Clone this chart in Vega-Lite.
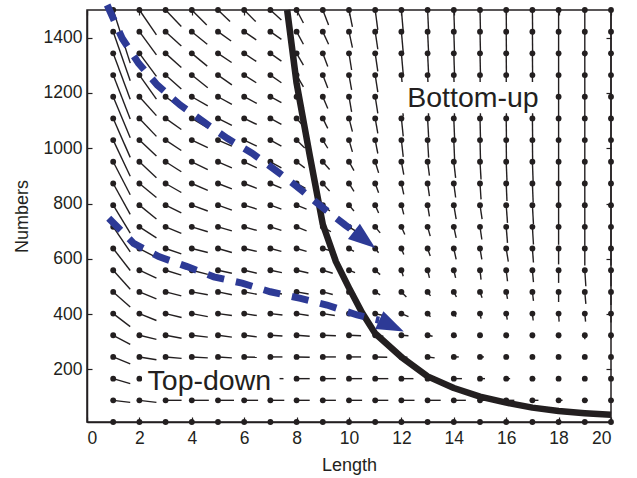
{
  "$schema": "https://vega.github.io/schema/vega-lite/v6.json",
  "width": 524,
  "height": 412,
  "autosize": {"type": "none"},
  "padding": {"left": 87, "top": 10, "right": 26, "bottom": 56},
  "background": "white",
  "config": {
    "view": {"stroke": "#231f20", "strokeWidth": 1.5},
    "font": "Liberation Sans",
    "axis": {"grid": false, "domainColor": "#231f20", "domainWidth": 1.5, "tickColor": "#231f20", "tickWidth": 1.2, "tickSize": -5, "labelFont": "Liberation Sans", "labelFontSize": 17.5, "labelColor": "#231f20", "titleFont": "Liberation Sans", "titleFontSize": 18, "titleFontWeight": "normal", "titleColor": "#231f20"},
    "axisX": {"labelPadding": 12, "titlePadding": 10},
    "axisY": {"labelPadding": 10, "titlePadding": 12}
  },
  "resolve": {"axis": {"x": "independent", "y": "independent"}},
  "encoding": {
    "x": {"field": "L", "type": "quantitative", "scale": {"domain": [0, 20], "nice": false, "zero": false}, "axis": null},
    "y": {"field": "N", "type": "quantitative", "scale": {"domain": [10, 1500], "nice": false, "zero": false}, "axis": null}
  },
  "datasets": {
    "field": [
      {"L":1,"N":1500,"L2":1.65,"N2":1308},{"L":1,"N":1421.6,"L2":1.65,"N2":1244},{"L":1,"N":1343.2,"L2":1.65,"N2":1177},{"L":1,"N":1264.7,"L2":1.65,"N2":1106},{"L":1,"N":1186.3,"L2":1.65,"N2":1038},{"L":1,"N":1107.9,"L2":1.65,"N2":967},{"L":1,"N":1029.5,"L2":1.65,"N2":899},{"L":1,"N":951.1,"L2":1.65,"N2":832},{"L":1,"N":872.6,"L2":1.65,"N2":761},{"L":1,"N":794.2,"L2":1.65,"N2":693},{"L":1,"N":715.8,"L2":1.65,"N2":625},{"L":1,"N":637.4,"L2":1.65,"N2":558},{"L":1,"N":558.9,"L2":1.65,"N2":490},{"L":1,"N":480.5,"L2":1.65,"N2":426},{"L":1,"N":402.1,"L2":1.65,"N2":355},{"L":1,"N":323.7,"L2":1.65,"N2":291},{"L":1,"N":245.3,"L2":1.65,"N2":220},{"L":1,"N":166.8,"L2":1.65,"N2":149},{"L":1,"N":88.4,"L2":1.65,"N2":81},{"L":1,"N":10,"L2":1,"N2":10},
      {"L":2,"N":1500,"L2":2.65,"N2":1410},{"L":2,"N":1421.6,"L2":2.65,"N2":1338},{"L":2,"N":1343.2,"L2":2.65,"N2":1260},{"L":2,"N":1264.7,"L2":2.65,"N2":1178},{"L":2,"N":1186.3,"L2":2.65,"N2":1118},{"L":2,"N":1107.9,"L2":2.65,"N2":1043},{"L":2,"N":1029.5,"L2":2.65,"N2":972},{"L":2,"N":951.1,"L2":2.65,"N2":893},{"L":2,"N":872.6,"L2":2.65,"N2":822},{"L":2,"N":794.2,"L2":2.65,"N2":744},{"L":2,"N":715.8,"L2":2.65,"N2":676},{"L":2,"N":637.4,"L2":2.65,"N2":605},{"L":2,"N":558.9,"L2":2.65,"N2":530},{"L":2,"N":480.5,"L2":2.65,"N2":455},{"L":2,"N":402.1,"L2":2.65,"N2":377},{"L":2,"N":323.7,"L2":2.65,"N2":309},{"L":2,"N":245.3,"L2":2.65,"N2":235},{"L":2,"N":166.8,"L2":2.65,"N2":158},{"L":2,"N":88.4,"L2":2.65,"N2":81},{"L":2,"N":10,"L2":2,"N2":10},
      {"L":3,"N":1500,"L2":3.6,"N2":1440},{"L":3,"N":1421.6,"L2":3.6,"N2":1370},{"L":3,"N":1343.2,"L2":3.6,"N2":1292},{"L":3,"N":1264.7,"L2":3.6,"N2":1214},{"L":3,"N":1186.3,"L2":3.6,"N2":1145},{"L":3,"N":1107.9,"L2":3.6,"N2":1068},{"L":3,"N":1029.5,"L2":3.6,"N2":992},{"L":3,"N":951.1,"L2":3.6,"N2":915},{"L":3,"N":872.6,"L2":3.6,"N2":840},{"L":3,"N":794.2,"L2":3.6,"N2":766},{"L":3,"N":715.8,"L2":3.6,"N2":692},{"L":3,"N":637.4,"L2":3.6,"N2":618},{"L":3,"N":558.9,"L2":3.6,"N2":541},{"L":3,"N":480.5,"L2":3.6,"N2":466},{"L":3,"N":402.1,"L2":3.61,"N2":388},{"L":3,"N":323.7,"L2":3.61,"N2":313},{"L":3,"N":245.3,"L2":3.61,"N2":240},{"L":3,"N":166.8,"L2":3.61,"N2":163},{"L":3,"N":88.4,"L2":3.61,"N2":88.4},{"L":3,"N":10,"L2":3,"N2":10},
      {"L":4,"N":1500,"L2":4.57,"N2":1446},{"L":4,"N":1421.6,"L2":4.59,"N2":1376},{"L":4,"N":1343.2,"L2":4.59,"N2":1297},{"L":4,"N":1264.7,"L2":4.61,"N2":1219},{"L":4,"N":1186.3,"L2":4.61,"N2":1153},{"L":4,"N":1107.9,"L2":4.61,"N2":1074},{"L":4,"N":1029.5,"L2":4.61,"N2":1002},{"L":4,"N":951.1,"L2":4.61,"N2":923},{"L":4,"N":872.6,"L2":4.61,"N2":848},{"L":4,"N":794.2,"L2":4.61,"N2":773},{"L":4,"N":715.8,"L2":4.61,"N2":698},{"L":4,"N":637.4,"L2":4.61,"N2":623},{"L":4,"N":558.9,"L2":4.61,"N2":544},{"L":4,"N":480.5,"L2":4.61,"N2":470},{"L":4,"N":402.1,"L2":4.61,"N2":391},{"L":4,"N":323.7,"L2":4.61,"N2":317},{"L":4,"N":245.3,"L2":4.61,"N2":242},{"L":4,"N":166.8,"L2":4.65,"N2":165},{"L":4,"N":88.4,"L2":4.65,"N2":88.4},{"L":4,"N":10,"L2":4,"N2":10},
      {"L":5,"N":1500,"L2":5.46,"N2":1458},{"L":5,"N":1421.6,"L2":5.5,"N2":1388},{"L":5,"N":1343.2,"L2":5.52,"N2":1310},{"L":5,"N":1264.7,"L2":5.53,"N2":1229},{"L":5,"N":1186.3,"L2":5.53,"N2":1159},{"L":5,"N":1107.9,"L2":5.53,"N2":1083},{"L":5,"N":1029.5,"L2":5.53,"N2":1008},{"L":5,"N":951.1,"L2":5.53,"N2":929},{"L":5,"N":872.6,"L2":5.53,"N2":853},{"L":5,"N":794.2,"L2":5.53,"N2":776},{"L":5,"N":715.8,"L2":5.53,"N2":701},{"L":5,"N":637.4,"L2":5.53,"N2":623},{"L":5,"N":558.9,"L2":5.53,"N2":548},{"L":5,"N":480.5,"L2":5.53,"N2":470},{"L":5,"N":402.1,"L2":5.53,"N2":395},{"L":5,"N":323.7,"L2":5.53,"N2":317},{"L":5,"N":245.3,"L2":5.53,"N2":242},{"L":5,"N":166.8,"L2":5.57,"N2":165},{"L":5,"N":88.4,"L2":5.61,"N2":88.4},{"L":5,"N":10,"L2":5,"N2":10},
      {"L":6,"N":1500,"L2":6.44,"N2":1458},{"L":6,"N":1421.6,"L2":6.46,"N2":1392},{"L":6,"N":1343.2,"L2":6.46,"N2":1314},{"L":6,"N":1264.7,"L2":6.46,"N2":1237},{"L":6,"N":1186.3,"L2":6.48,"N2":1162},{"L":6,"N":1107.9,"L2":6.48,"N2":1086},{"L":6,"N":1029.5,"L2":6.48,"N2":1008},{"L":6,"N":951.1,"L2":6.48,"N2":929},{"L":6,"N":872.6,"L2":6.48,"N2":855},{"L":6,"N":794.2,"L2":6.48,"N2":780},{"L":6,"N":715.8,"L2":6.48,"N2":703},{"L":6,"N":637.4,"L2":6.48,"N2":627},{"L":6,"N":558.9,"L2":6.48,"N2":548},{"L":6,"N":480.5,"L2":6.48,"N2":472},{"L":6,"N":402.1,"L2":6.48,"N2":395},{"L":6,"N":323.7,"L2":6.48,"N2":318},{"L":6,"N":245.3,"L2":6.48,"N2":244},{"L":6,"N":166.8,"L2":6.5,"N2":166},{"L":6,"N":88.4,"L2":6.53,"N2":88.4},{"L":6,"N":10,"L2":6,"N2":10},
      {"L":7,"N":1500,"L2":7.42,"N2":1464},{"L":7,"N":1421.6,"L2":7.42,"N2":1394},{"L":7,"N":1343.2,"L2":7.42,"N2":1315},{"L":7,"N":1264.7,"L2":7.42,"N2":1237},{"L":7,"N":1186.3,"L2":7.42,"N2":1165},{"L":7,"N":1107.9,"L2":7.42,"N2":1086},{"L":7,"N":1029.5,"L2":7.42,"N2":1008},{"L":7,"N":951.1,"L2":7.42,"N2":929},{"L":7,"N":872.6,"L2":7.42,"N2":856},{"L":7,"N":794.2,"L2":7.42,"N2":780},{"L":7,"N":715.8,"L2":7.42,"N2":703},{"L":7,"N":637.4,"L2":7.42,"N2":627},{"L":7,"N":558.9,"L2":7.44,"N2":550},{"L":7,"N":480.5,"L2":7.44,"N2":473},{"L":7,"N":402.1,"L2":7.46,"N2":397},{"L":7,"N":323.7,"L2":7.46,"N2":321},{"L":7,"N":245.3,"L2":7.46,"N2":245.3},{"L":7,"N":166.8,"L2":7.5,"N2":166.8},{"L":7,"N":88.4,"L2":7.53,"N2":88.4},{"L":7,"N":10,"L2":7,"N2":10},
      {"L":8,"N":1500,"L2":8.26,"N2":1453},{"L":8,"N":1421.6,"L2":8.26,"N2":1376},{"L":8,"N":1343.2,"L2":8.26,"N2":1301},{"L":8,"N":1264.7,"L2":8.26,"N2":1222},{"L":8,"N":1186.3,"L2":8.27,"N2":1147},{"L":8,"N":1107.9,"L2":8.31,"N2":1075},{"L":8,"N":1029.5,"L2":8.31,"N2":1001},{"L":8,"N":951.1,"L2":8.31,"N2":929},{"L":8,"N":872.6,"L2":8.34,"N2":855},{"L":8,"N":794.2,"L2":8.38,"N2":780},{"L":8,"N":715.8,"L2":8.38,"N2":701},{"L":8,"N":637.4,"L2":8.38,"N2":627},{"L":8,"N":558.9,"L2":8.45,"N2":549},{"L":8,"N":480.5,"L2":8.46,"N2":473},{"L":8,"N":402.1,"L2":8.46,"N2":395},{"L":8,"N":323.7,"L2":8.5,"N2":320},{"L":8,"N":245.3,"L2":8.5,"N2":244},{"L":8,"N":166.8,"L2":8.5,"N2":166.8},{"L":8,"N":88.4,"L2":8.5,"N2":88.4},{"L":8,"N":10,"L2":8,"N2":10},
      {"L":9,"N":1500,"L2":9.22,"N2":1446},{"L":9,"N":1421.6,"L2":9.22,"N2":1376},{"L":9,"N":1343.2,"L2":9.19,"N2":1296},{"L":9,"N":1264.7,"L2":9.19,"N2":1218},{"L":9,"N":1186.3,"L2":9.19,"N2":1144},{"L":9,"N":1107.9,"L2":9.19,"N2":1072},{"L":9,"N":1029.5,"L2":9.19,"N2":1000},{"L":9,"N":951.1,"L2":9.26,"N2":923},{"L":9,"N":872.6,"L2":9.26,"N2":845},{"L":9,"N":794.2,"L2":9.27,"N2":773},{"L":9,"N":715.8,"L2":9.31,"N2":698},{"L":9,"N":637.4,"L2":9.38,"N2":627},{"L":9,"N":558.9,"L2":9.38,"N2":548},{"L":9,"N":480.5,"L2":9.38,"N2":471},{"L":9,"N":402.1,"L2":9.46,"N2":395},{"L":9,"N":323.7,"L2":9.5,"N2":322},{"L":9,"N":245.3,"L2":9.5,"N2":245.3},{"L":9,"N":166.8,"L2":9.5,"N2":166.8},{"L":9,"N":88.4,"L2":9.5,"N2":88.4},{"L":9,"N":10,"L2":9,"N2":10},
      {"L":10,"N":1500,"L2":10.13,"N2":1439},{"L":10,"N":1421.6,"L2":10.13,"N2":1364},{"L":10,"N":1343.2,"L2":10.1,"N2":1283},{"L":10,"N":1264.7,"L2":10.1,"N2":1211},{"L":10,"N":1186.3,"L2":10.1,"N2":1132},{"L":10,"N":1107.9,"L2":10.13,"N2":1060},{"L":10,"N":1029.5,"L2":10.13,"N2":987},{"L":10,"N":951.1,"L2":10.19,"N2":919},{"L":10,"N":872.6,"L2":10.19,"N2":844},{"L":10,"N":794.2,"L2":10.19,"N2":773},{"L":10,"N":715.8,"L2":10.26,"N2":700},{"L":10,"N":637.4,"L2":10.19,"N2":627},{"L":10,"N":558.9,"L2":10.23,"N2":550},{"L":10,"N":480.5,"L2":10.23,"N2":473},{"L":10,"N":402.1,"L2":10.31,"N2":397},{"L":10,"N":323.7,"L2":10.46,"N2":322},{"L":10,"N":245.3,"L2":10.46,"N2":245.3},{"L":10,"N":166.8,"L2":10.5,"N2":166.8},{"L":10,"N":88.4,"L2":10.5,"N2":88.4},{"L":10,"N":10,"L2":10,"N2":10},
      {"L":11,"N":1500,"L2":11.1,"N2":1428},{"L":11,"N":1421.6,"L2":11.1,"N2":1358},{"L":11,"N":1343.2,"L2":11.1,"N2":1278},{"L":11,"N":1264.7,"L2":11.1,"N2":1203},{"L":11,"N":1186.3,"L2":11.1,"N2":1126},{"L":11,"N":1107.9,"L2":11.1,"N2":1054},{"L":11,"N":1029.5,"L2":11.1,"N2":981},{"L":11,"N":951.1,"L2":11.13,"N2":911},{"L":11,"N":872.6,"L2":11.13,"N2":839},{"L":11,"N":794.2,"L2":11.13,"N2":766},{"L":11,"N":715.8,"L2":11.19,"N2":694},{"L":11,"N":637.4,"L2":11.13,"N2":622},{"L":11,"N":558.9,"L2":11.19,"N2":543},{"L":11,"N":480.5,"L2":11.19,"N2":470},{"L":11,"N":402.1,"L2":11.31,"N2":395},{"L":11,"N":323.7,"L2":11.31,"N2":320},{"L":11,"N":245.3,"L2":11.46,"N2":244},{"L":11,"N":166.8,"L2":11.5,"N2":166.8},{"L":11,"N":88.4,"L2":11.5,"N2":88.4},{"L":11,"N":10,"L2":11,"N2":10},
      {"L":12,"N":1500,"L2":12.07,"N2":1422},{"L":12,"N":1421.6,"L2":12.07,"N2":1346},{"L":12,"N":1343.2,"L2":12.07,"N2":1267},{"L":12,"N":1264.7,"L2":12.07,"N2":1192},{"L":12,"N":1186.3,"L2":12.07,"N2":1116},{"L":12,"N":1107.9,"L2":12.07,"N2":1043},{"L":12,"N":1029.5,"L2":12.07,"N2":969},{"L":12,"N":951.1,"L2":12.09,"N2":905},{"L":12,"N":872.6,"L2":12.09,"N2":833},{"L":12,"N":794.2,"L2":12.09,"N2":761},{"L":12,"N":715.8,"L2":12.13,"N2":688},{"L":12,"N":637.4,"L2":12.09,"N2":616},{"L":12,"N":558.9,"L2":12.07,"N2":537},{"L":12,"N":480.5,"L2":12.19,"N2":462},{"L":12,"N":402.1,"L2":12.27,"N2":391},{"L":12,"N":323.7,"L2":12.27,"N2":322},{"L":12,"N":245.3,"L2":12.23,"N2":244},{"L":12,"N":166.8,"L2":12.46,"N2":166.8},{"L":12,"N":88.4,"L2":12.5,"N2":88.4},{"L":12,"N":10,"L2":12,"N2":10},
      {"L":13,"N":1500,"L2":13.04,"N2":1420},{"L":13,"N":1421.6,"L2":13.04,"N2":1342},{"L":13,"N":1343.2,"L2":13.04,"N2":1265},{"L":13,"N":1264.7,"L2":13.04,"N2":1189},{"L":13,"N":1186.3,"L2":13.04,"N2":1112},{"L":13,"N":1107.9,"L2":13.04,"N2":1039},{"L":13,"N":1029.5,"L2":13.04,"N2":966},{"L":13,"N":951.1,"L2":13.07,"N2":901},{"L":13,"N":872.6,"L2":13.07,"N2":827},{"L":13,"N":794.2,"L2":13.07,"N2":754},{"L":13,"N":715.8,"L2":13.1,"N2":682},{"L":13,"N":637.4,"L2":13.1,"N2":610},{"L":13,"N":558.9,"L2":13.07,"N2":531},{"L":13,"N":480.5,"L2":13.11,"N2":466},{"L":13,"N":402.1,"L2":13.11,"N2":391},{"L":13,"N":323.7,"L2":13.19,"N2":320},{"L":13,"N":245.3,"L2":13.27,"N2":242},{"L":13,"N":166.8,"L2":13.38,"N2":166.8},{"L":13,"N":88.4,"L2":13.5,"N2":88.4},{"L":13,"N":10,"L2":13,"N2":10},
      {"L":14,"N":1500,"L2":14.03,"N2":1417},{"L":14,"N":1421.6,"L2":14.03,"N2":1338},{"L":14,"N":1343.2,"L2":14.03,"N2":1262},{"L":14,"N":1264.7,"L2":14.03,"N2":1185},{"L":14,"N":1186.3,"L2":14.03,"N2":1109},{"L":14,"N":1107.9,"L2":14.03,"N2":1036},{"L":14,"N":1029.5,"L2":14.03,"N2":961},{"L":14,"N":951.1,"L2":14.07,"N2":893},{"L":14,"N":872.6,"L2":14.07,"N2":822},{"L":14,"N":794.2,"L2":14.09,"N2":744},{"L":14,"N":715.8,"L2":14.09,"N2":676},{"L":14,"N":637.4,"L2":14.09,"N2":598},{"L":14,"N":558.9,"L2":14.07,"N2":531},{"L":14,"N":480.5,"L2":14.1,"N2":462},{"L":14,"N":402.1,"L2":14.08,"N2":391},{"L":14,"N":323.7,"L2":14.11,"N2":320},{"L":14,"N":245.3,"L2":14.19,"N2":245.3},{"L":14,"N":166.8,"L2":14.31,"N2":166.8},{"L":14,"N":88.4,"L2":14.46,"N2":88.4},{"L":14,"N":10,"L2":14,"N2":10},
      {"L":15,"N":1500,"L2":15.02,"N2":1413},{"L":15,"N":1421.6,"L2":15.02,"N2":1337},{"L":15,"N":1343.2,"L2":15.02,"N2":1260},{"L":15,"N":1264.7,"L2":15.02,"N2":1183},{"L":15,"N":1186.3,"L2":15.02,"N2":1107},{"L":15,"N":1107.9,"L2":15.02,"N2":1032},{"L":15,"N":1029.5,"L2":15.02,"N2":957},{"L":15,"N":951.1,"L2":15.04,"N2":887},{"L":15,"N":872.6,"L2":15.04,"N2":815},{"L":15,"N":794.2,"L2":15.08,"N2":744},{"L":15,"N":715.8,"L2":15.07,"N2":670},{"L":15,"N":637.4,"L2":15.07,"N2":598},{"L":15,"N":558.9,"L2":15.04,"N2":525},{"L":15,"N":480.5,"L2":15.08,"N2":459},{"L":15,"N":402.1,"L2":15.04,"N2":384},{"L":15,"N":323.7,"L2":15.08,"N2":318},{"L":15,"N":245.3,"L2":15.15,"N2":245.3},{"L":15,"N":166.8,"L2":15.19,"N2":166.8},{"L":15,"N":88.4,"L2":15.38,"N2":88.4},{"L":15,"N":10,"L2":15,"N2":10},
      {"L":16,"N":1500,"L2":16.01,"N2":1411},{"L":16,"N":1421.6,"L2":16.01,"N2":1335},{"L":16,"N":1343.2,"L2":16.01,"N2":1258},{"L":16,"N":1264.7,"L2":16.01,"N2":1182},{"L":16,"N":1186.3,"L2":16.01,"N2":1105},{"L":16,"N":1107.9,"L2":16.01,"N2":1030},{"L":16,"N":1029.5,"L2":16.01,"N2":955},{"L":16,"N":951.1,"L2":16.03,"N2":882},{"L":16,"N":872.6,"L2":16.03,"N2":809},{"L":16,"N":794.2,"L2":16.05,"N2":730},{"L":16,"N":715.8,"L2":16.05,"N2":658},{"L":16,"N":637.4,"L2":16.08,"N2":590},{"L":16,"N":558.9,"L2":16.05,"N2":519},{"L":16,"N":480.5,"L2":16.05,"N2":455},{"L":16,"N":402.1,"L2":16.04,"N2":380},{"L":16,"N":323.7,"L2":16.04,"N2":313},{"L":16,"N":245.3,"L2":16.11,"N2":245.3},{"L":16,"N":166.8,"L2":16.15,"N2":166.8},{"L":16,"N":88.4,"L2":16.31,"N2":88.4},{"L":16,"N":10,"L2":16,"N2":10},
      {"L":17,"N":1500,"L2":17.01,"N2":1410},{"L":17,"N":1421.6,"L2":17.01,"N2":1333},{"L":17,"N":1343.2,"L2":17.01,"N2":1256},{"L":17,"N":1264.7,"L2":17.01,"N2":1180},{"L":17,"N":1186.3,"L2":17.01,"N2":1103},{"L":17,"N":1107.9,"L2":17.01,"N2":1028},{"L":17,"N":1029.5,"L2":17.01,"N2":954},{"L":17,"N":951.1,"L2":17.03,"N2":875},{"L":17,"N":872.6,"L2":17.03,"N2":804},{"L":17,"N":794.2,"L2":17.04,"N2":726},{"L":17,"N":715.8,"L2":17.04,"N2":652},{"L":17,"N":637.4,"L2":17.04,"N2":587},{"L":17,"N":558.9,"L2":17.04,"N2":516},{"L":17,"N":480.5,"L2":17.04,"N2":448},{"L":17,"N":402.1,"L2":17.03,"N2":377},{"L":17,"N":323.7,"L2":17.04,"N2":313},{"L":17,"N":245.3,"L2":17.08,"N2":245.3},{"L":17,"N":166.8,"L2":17.11,"N2":166.8},{"L":17,"N":88.4,"L2":17.23,"N2":88.4},{"L":17,"N":10,"L2":17,"N2":10},
      {"L":18,"N":1500,"L2":18,"N2":1410},{"L":18,"N":1421.6,"L2":18,"N2":1331},{"L":18,"N":1343.2,"L2":18,"N2":1255},{"L":18,"N":1264.7,"L2":18,"N2":1178},{"L":18,"N":1186.3,"L2":18,"N2":1101},{"L":18,"N":1107.9,"L2":18,"N2":1025},{"L":18,"N":1029.5,"L2":18,"N2":950},{"L":18,"N":951.1,"L2":18,"N2":872},{"L":18,"N":872.6,"L2":18,"N2":797},{"L":18,"N":794.2,"L2":18,"N2":722},{"L":18,"N":715.8,"L2":18,"N2":651},{"L":18,"N":637.4,"L2":18,"N2":580},{"L":18,"N":558.9,"L2":18,"N2":513},{"L":18,"N":480.5,"L2":18,"N2":444},{"L":18,"N":402.1,"L2":18.02,"N2":373},{"L":18,"N":323.7,"L2":18.01,"N2":313},{"L":18,"N":245.3,"L2":18.04,"N2":244},{"L":18,"N":166.8,"L2":18.08,"N2":166.8},{"L":18,"N":88.4,"L2":18.15,"N2":88.4},{"L":18,"N":10,"L2":18,"N2":10},
      {"L":19,"N":1500,"L2":19,"N2":1410},{"L":19,"N":1421.6,"L2":19,"N2":1331},{"L":19,"N":1343.2,"L2":19,"N2":1255},{"L":19,"N":1264.7,"L2":19,"N2":1178},{"L":19,"N":1186.3,"L2":19,"N2":1101},{"L":19,"N":1107.9,"L2":19,"N2":1025},{"L":19,"N":1029.5,"L2":19,"N2":948},{"L":19,"N":951.1,"L2":19,"N2":872},{"L":19,"N":872.6,"L2":19,"N2":793},{"L":19,"N":794.2,"L2":19,"N2":718},{"L":19,"N":715.8,"L2":19,"N2":647},{"L":19,"N":637.4,"L2":19,"N2":576},{"L":19,"N":558.9,"L2":19.04,"N2":501},{"L":19,"N":480.5,"L2":19.04,"N2":437},{"L":19,"N":402.1,"L2":19.03,"N2":373},{"L":19,"N":323.7,"L2":19,"N2":309},{"L":19,"N":245.3,"L2":19.02,"N2":244},{"L":19,"N":166.8,"L2":19.04,"N2":166.8},{"L":19,"N":88.4,"L2":19.11,"N2":88.4},{"L":19,"N":10,"L2":19,"N2":10},
      {"L":20,"N":1500,"L2":20,"N2":1410},{"L":20,"N":1421.6,"L2":20,"N2":1331},{"L":20,"N":1343.2,"L2":20,"N2":1255},{"L":20,"N":1264.7,"L2":20,"N2":1178},{"L":20,"N":1186.3,"L2":20,"N2":1101},{"L":20,"N":1107.9,"L2":20,"N2":1025},{"L":20,"N":1029.5,"L2":20,"N2":948},{"L":20,"N":951.1,"L2":20,"N2":872},{"L":20,"N":872.6,"L2":20,"N2":793},{"L":20,"N":794.2,"L2":20,"N2":718},{"L":20,"N":715.8,"L2":20,"N2":644},{"L":20,"N":637.4,"L2":20,"N2":576},{"L":20,"N":558.9,"L2":20,"N2":501},{"L":20,"N":480.5,"L2":20,"N2":433},{"L":20,"N":402.1,"L2":20,"N2":370},{"L":20,"N":323.7,"L2":20,"N2":309},{"L":20,"N":245.3,"L2":20,"N2":244},{"L":20,"N":166.8,"L2":20.02,"N2":166.8},{"L":20,"N":88.4,"L2":20.08,"N2":88.4},{"L":20,"N":10,"L2":20,"N2":10}
    ],
    "curve": [
      {"i":0,"L":7.64,"N":1500},{"i":1,"L":8.0,"N":1235},{"i":2,"L":8.5,"N":975},{"i":3,"L":9.0,"N":725},{"i":4,"L":9.5,"N":590},{"i":5,"L":10.0,"N":495},{"i":6,"L":10.5,"N":405},{"i":7,"L":11,"N":330},{"i":8,"L":12,"N":245},{"i":9,"L":13,"N":175},{"i":10,"L":14,"N":133},{"i":11,"L":15,"N":102},{"i":12,"L":16,"N":80},{"i":13,"L":17,"N":62},{"i":14,"L":18,"N":50},{"i":15,"L":19,"N":42},{"i":16,"L":20,"N":36}
    ],
    "arrows": [
      {"a":"upper","i":0,"L":0.77,"N":1518},{"a":"upper","i":1,"L":1.34,"N":1398},{"a":"upper","i":2,"L":1.97,"N":1307},{"a":"upper","i":3,"L":2.68,"N":1229},{"a":"upper","i":4,"L":3.56,"N":1156},{"a":"upper","i":5,"L":4.44,"N":1096},{"a":"upper","i":6,"L":5.35,"N":1036},{"a":"upper","i":7,"L":6.3,"N":982},{"a":"upper","i":8,"L":7.19,"N":921},{"a":"upper","i":9,"L":8.02,"N":861},{"a":"upper","i":10,"L":9.02,"N":784},{"a":"upper","i":11,"L":9.86,"N":722},{"a":"upper","i":12,"L":10.19,"N":699},
      {"a":"lower","i":0,"L":0.83,"N":747},{"a":"lower","i":1,"L":1.78,"N":656},{"a":"lower","i":2,"L":2.74,"N":608},{"a":"lower","i":3,"L":3.82,"N":572},{"a":"lower","i":4,"L":4.84,"N":535},{"a":"lower","i":5,"L":5.92,"N":512},{"a":"lower","i":6,"L":7.0,"N":481},{"a":"lower","i":7,"L":8.15,"N":457},{"a":"lower","i":8,"L":9.16,"N":433},{"a":"lower","i":9,"L":10.31,"N":397},{"a":"lower","i":10,"L":11.15,"N":378}
    ],
    "boxes": [
      {"L":11.81,"L2":17.5,"N":1127,"N2":1240},
      {"L":2.1,"L2":7.35,"N":104,"N2":223}
    ],
    "labels": [
      {"label":"Bottom-up","L":14.73,"N":1148},
      {"label":"Top-down","L":4.67,"N":126}
    ]
  },
  "layer": [
    {
      "data": {"name": "field"},
      "mark": {"type": "rule", "color": "#231f20", "strokeWidth": 1.4},
      "encoding": {
        "x": {"field": "L", "type": "quantitative", "title": "Length", "scale": {"domain": [0, 20], "nice": false, "zero": false}, "axis": {"values": [0,2,4,6,8,10,12,14,16,18,20]}},
        "y": {"field": "N", "type": "quantitative", "title": "Numbers", "scale": {"domain": [10, 1500], "nice": false, "zero": false}, "axis": {"values": [200,400,600,800,1000,1200,1400], "format": "d"}},
        "x2": {"field": "L2"},
        "y2": {"field": "N2"}
      }
    },
    {
      "data": {"name": "field"},
      "mark": {"type": "point", "filled": true, "opacity": 1, "size": 34, "color": "#231f20"},
      "encoding": {
        "x": {"field": "L", "type": "quantitative", "scale": {"domain": [0, 20], "nice": false, "zero": false}, "axis": {"orient": "top", "values": [0,2,4,6,8,10,12,14,16,18,20], "labels": false, "title": null, "domain": false}},
        "y": {"field": "N", "type": "quantitative", "scale": {"domain": [10, 1500], "nice": false, "zero": false}, "axis": {"orient": "right", "values": [200,400,600,800,1000,1200,1400], "labels": false, "title": null, "domain": false}}
      }
    },
    {
      "data": {"name": "boxes"},
      "mark": {"type": "rect", "color": "white", "opacity": 1},
      "encoding": {"x2": {"field": "L2"}, "y2": {"field": "N2"}}
    },
    {
      "data": {"name": "curve"},
      "mark": {"type": "line", "color": "#231f20", "strokeWidth": 6.5, "strokeJoin": "round"},
      "encoding": {"order": {"field": "i", "type": "quantitative"}}
    },
    {
      "data": {"name": "arrows"},
      "mark": {"type": "line", "color": "#2d3a96", "strokeWidth": 7, "strokeDash": [17, 12], "strokeCap": "butt", "clip": false},
      "encoding": {"detail": {"field": "a", "type": "nominal"}, "order": {"field": "i", "type": "quantitative"}}
    },
    {
      "data": {"values": [{"L": 11.0, "N": 639}]},
      "mark": {"type": "point", "shape": "M0,0L-2,-0.72L-2,0.72Z", "filled": true, "opacity": 1, "size": 729, "angle": 38, "color": "#2d3a96"}
    },
    {
      "data": {"values": [{"L": 12.09, "N": 337}]},
      "mark": {"type": "point", "shape": "M0,0L-2,-0.72L-2,0.72Z", "filled": true, "opacity": 1, "size": 729, "angle": 25, "color": "#2d3a96"}
    },
    {
      "data": {"name": "labels"},
      "mark": {"type": "text", "font": "Liberation Sans", "fontSize": 28.5, "align": "center", "baseline": "alphabetic", "color": "#231f20"},
      "encoding": {"text": {"field": "label"}}
    }
  ]
}
